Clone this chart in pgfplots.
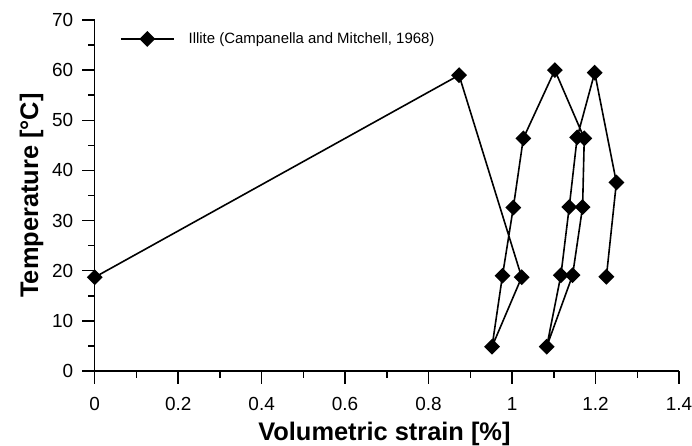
\documentclass[border=0pt]{standalone}
\usepackage{pgfplots}
\pgfplotsset{compat=1.18}
\usepackage{fontspec}
\setmainfont{Liberation Sans}
\begin{document}
\begin{tikzpicture}[x=1bp,y=1bp]
\path[use as bounding box] (-94.7bp,-75bp) rectangle (597.3bp,371bp);
\begin{axis}[
  at={(0,0)}, anchor=origin,
  scale only axis,
  width=584.3bp, height=351bp,
  xmin=0, xmax=1.4, ymin=0, ymax=70,
  axis x line*=bottom, axis y line*=left,
  axis line style={line width=1.5bp},
  tick style={line width=1.5bp, black},
  tick align=outside,
  major tick length=12.5bp, minor tick length=6.5bp,
  xtick={0,0.2,0.4,0.6,0.8,1,1.2,1.4},
  xticklabels={0,0.2,0.4,0.6,0.8,1,1.2,1.4},
  ytick={0,10,20,30,40,50,60,70},
  minor x tick num=1, minor y tick num=1,
  /pgf/number format/assume math mode=true,
  tick label style={font=\fontsize{19}{19}\selectfont},
  xticklabel style={yshift=-10bp},
  yticklabel style={xshift=-5.5bp},
  xlabel={\textbf{Volumetric strain [\%]}},
  ylabel={\textbf{Temperature [°C]}},
  label style={font=\fontsize{25.5}{25.5}\selectfont},
  xlabel style={at={([xshift=-2.4bp,yshift=-69bp]axis description cs:0.5,0)}, anchor=base},
  ylabel style={at={([xshift=-56.5bp]axis description cs:0,0.5)}, anchor=base},
  legend style={draw=none, fill=none, inner sep=0pt, outer sep=0pt,
    nodes={inner sep=0pt, font=\fontsize{15}{15}\selectfont},
    column sep=14bp,
    at={(axis description cs:0.0433,0.946)}, anchor=west},
  legend image code/.code={\draw[mark repeat=2,mark phase=2] plot coordinates {(0bp,0bp) (26.5bp,0bp) (53bp,0bp)};},
]
\addplot[black, line width=1.6bp, mark=square*, mark size=4.8bp, mark options={rotate=45, solid}]
coordinates {
(0,18.7) (0.873,59) (1.023,18.7) (0.952,4.85) (0.977,19.0) (1.003,32.6) (1.027,46.4)
(1.1025,60.0) (1.173,46.4) (1.169,32.7) (1.145,19.1) (1.083,4.85) (1.117,19.1)
(1.137,32.7) (1.156,46.6) (1.198,59.5) (1.250,37.6) (1.226,18.8)
};
\addlegendentry{Illite (Campanella and Mitchell, 1968)}
\end{axis}
\end{tikzpicture}
\end{document}
